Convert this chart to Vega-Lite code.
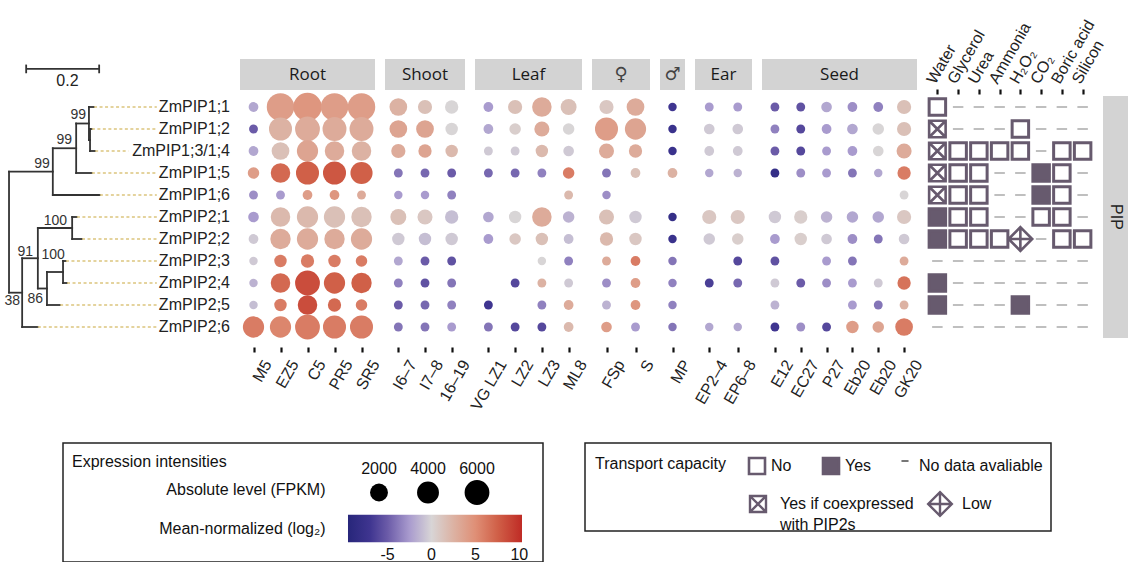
{
"$schema": "https://vega.github.io/schema/vega-lite/v6.json",
"padding": {"top": 17, "left": 0, "right": 0, "bottom": 0},
"background": "white",
"config": {"view": {"stroke": null}, "font": "Liberation Sans", "legend": {"disable": true}, "axis": {"grid": false, "labelFont": "Liberation Sans"}, "title": {"fontWeight": "normal", "font": "Liberation Sans"}},
"datasets": {
"scalebar": [{"from": 0.047, "to": 0.247, "label": "0.2"}],
"tree": [
{"x0":0.222,"x1":0.222,"y0":1,"y1":2},{"x0":0.219,"x1":0.219,"y0":0,"y1":1.5},{"x0":0.184,"x1":0.184,"y0":0.75,"y1":3},{"x0":0.12,"x1":0.12,"y0":1.875,"y1":4},{"x0":0.173,"x1":0.173,"y0":5,"y1":6},{"x0":0.148,"x1":0.148,"y0":7,"y1":8},{"x0":0.104,"x1":0.104,"y0":7.5,"y1":9},{"x0":0.079,"x1":0.079,"y0":5.5,"y1":8.25},{"x0":0.036,"x1":0.036,"y0":6.875,"y1":10},{"x0":0,"x1":0,"y0":2.94,"y1":8.44},
{"x0":0.219,"x1":0.233,"y0":0,"y1":0},{"x0":0.222,"x1":0.227,"y0":1,"y1":1},{"x0":0.222,"x1":0.236,"y0":2,"y1":2},{"x0":0.219,"x1":0.222,"y0":1.5,"y1":1.5},{"x0":0.184,"x1":0.219,"y0":0.75,"y1":0.75},{"x0":0.184,"x1":0.227,"y0":3,"y1":3},{"x0":0.12,"x1":0.184,"y0":1.875,"y1":1.875},{"x0":0.12,"x1":0.249,"y0":4,"y1":4},{"x0":0,"x1":0.12,"y0":2.94,"y1":2.94},{"x0":0.173,"x1":0.186,"y0":5,"y1":5},{"x0":0.173,"x1":0.2,"y0":6,"y1":6},{"x0":0.079,"x1":0.173,"y0":5.5,"y1":5.5},{"x0":0.148,"x1":0.156,"y0":7,"y1":7},{"x0":0.148,"x1":0.159,"y0":8,"y1":8},{"x0":0.104,"x1":0.148,"y0":7.5,"y1":7.5},{"x0":0.104,"x1":0.14,"y0":9,"y1":9},{"x0":0.079,"x1":0.104,"y0":8.25,"y1":8.25},{"x0":0.036,"x1":0.079,"y0":6.875,"y1":6.875},{"x0":0.036,"x1":0.079,"y0":10,"y1":10},{"x0":0,"x1":0.036,"y0":8.44,"y1":8.44}],
"boot": [{"x":0.211,"y":0.37,"label":"99"},{"x":0.173,"y":1.51,"label":"99"},{"x":0.112,"y":2.6,"label":"99"},{"x":0.159,"y":5.2,"label":"100"},{"x":0.153,"y":6.71,"label":"100"},{"x":0.066,"y":6.58,"label":"91"},{"x":0.093,"y":8.72,"label":"86"},{"x":0.03,"y":8.81,"label":"38"}],
"leaves": [{"gene":"ZmPIP1;1","idx":0,"tip":0.233},{"gene":"ZmPIP1;2","idx":1,"tip":0.227},{"gene":"ZmPIP1;3/1;4","idx":2,"tip":0.236},{"gene":"ZmPIP1;5","idx":3,"tip":0.227},{"gene":"ZmPIP1;6","idx":4,"tip":0.249},{"gene":"ZmPIP2;1","idx":5,"tip":0.186},{"gene":"ZmPIP2;2","idx":6,"tip":0.2},{"gene":"ZmPIP2;3","idx":7,"tip":0.156},{"gene":"ZmPIP2;4","idx":8,"tip":0.159},{"gene":"ZmPIP2;5","idx":9,"tip":0.14},{"gene":"ZmPIP2;6","idx":10,"tip":0.079}],
"expr": [
{"gene":"ZmPIP1;1","tissue":"Root","sample":"M5","fpkm":95,"log2":-2},{"gene":"ZmPIP1;1","tissue":"Root","sample":"EZ5","fpkm":8280,"log2":4},{"gene":"ZmPIP1;1","tissue":"Root","sample":"C5","fpkm":9100,"log2":4.5},{"gene":"ZmPIP1;1","tissue":"Root","sample":"PR5","fpkm":8280,"log2":4},{"gene":"ZmPIP1;1","tissue":"Root","sample":"SR5","fpkm":8280,"log2":4},
{"gene":"ZmPIP1;2","tissue":"Root","sample":"M5","fpkm":30,"log2":-5},{"gene":"ZmPIP1;2","tissue":"Root","sample":"EZ5","fpkm":4720,"log2":2.5},{"gene":"ZmPIP1;2","tissue":"Root","sample":"C5","fpkm":6000,"log2":3},{"gene":"ZmPIP1;2","tissue":"Root","sample":"PR5","fpkm":5340,"log2":3},{"gene":"ZmPIP1;2","tissue":"Root","sample":"SR5","fpkm":5340,"log2":3},
{"gene":"ZmPIP1;3/1;4","tissue":"Root","sample":"M5","fpkm":95,"log2":-2},{"gene":"ZmPIP1;3/1;4","tissue":"Root","sample":"EZ5","fpkm":1930,"log2":1.5},{"gene":"ZmPIP1;3/1;4","tissue":"Root","sample":"C5","fpkm":3620,"log2":3.5},{"gene":"ZmPIP1;3/1;4","tissue":"Root","sample":"PR5","fpkm":2700,"log2":3},{"gene":"ZmPIP1;3/1;4","tissue":"Root","sample":"SR5","fpkm":2700,"log2":2.5},
{"gene":"ZmPIP1;5","tissue":"Root","sample":"M5","fpkm":300,"log2":4},{"gene":"ZmPIP1;5","tissue":"Root","sample":"EZ5","fpkm":2700,"log2":7},{"gene":"ZmPIP1;5","tissue":"Root","sample":"C5","fpkm":4720,"log2":7.5},{"gene":"ZmPIP1;5","tissue":"Root","sample":"PR5","fpkm":4720,"log2":8},{"gene":"ZmPIP1;5","tissue":"Root","sample":"SR5","fpkm":4150,"log2":7.5},
{"gene":"ZmPIP1;6","tissue":"Root","sample":"M5","fpkm":30,"log2":-3},{"gene":"ZmPIP1;6","tissue":"Root","sample":"EZ5","fpkm":30,"log2":-2.5},{"gene":"ZmPIP1;6","tissue":"Root","sample":"C5","fpkm":95,"log2":4},{"gene":"ZmPIP1;6","tissue":"Root","sample":"PR5","fpkm":95,"log2":4.5},{"gene":"ZmPIP1;6","tissue":"Root","sample":"SR5","fpkm":30,"log2":3},
{"gene":"ZmPIP2;1","tissue":"Root","sample":"M5","fpkm":185,"log2":-2.5},{"gene":"ZmPIP2;1","tissue":"Root","sample":"EZ5","fpkm":2700,"log2":2},{"gene":"ZmPIP2;1","tissue":"Root","sample":"C5","fpkm":3620,"log2":2},{"gene":"ZmPIP2;1","tissue":"Root","sample":"PR5","fpkm":3620,"log2":1.5},{"gene":"ZmPIP2;1","tissue":"Root","sample":"SR5","fpkm":3140,"log2":1.5},
{"gene":"ZmPIP2;2","tissue":"Root","sample":"M5","fpkm":95,"log2":-0.5},{"gene":"ZmPIP2;2","tissue":"Root","sample":"EZ5","fpkm":3140,"log2":3},{"gene":"ZmPIP2;2","tissue":"Root","sample":"C5","fpkm":3620,"log2":3},{"gene":"ZmPIP2;2","tissue":"Root","sample":"PR5","fpkm":3140,"log2":3},{"gene":"ZmPIP2;2","tissue":"Root","sample":"SR5","fpkm":3620,"log2":3},
{"gene":"ZmPIP2;3","tissue":"Root","sample":"M5","fpkm":10,"log2":-0.5},{"gene":"ZmPIP2;3","tissue":"Root","sample":"EZ5","fpkm":445,"log2":6},{"gene":"ZmPIP2;3","tissue":"Root","sample":"C5","fpkm":615,"log2":6},{"gene":"ZmPIP2;3","tissue":"Root","sample":"PR5","fpkm":445,"log2":6},{"gene":"ZmPIP2;3","tissue":"Root","sample":"SR5","fpkm":300,"log2":6},
{"gene":"ZmPIP2;4","tissue":"Root","sample":"M5","fpkm":10,"log2":-1.5},{"gene":"ZmPIP2;4","tissue":"Root","sample":"EZ5","fpkm":2700,"log2":7},{"gene":"ZmPIP2;4","tissue":"Root","sample":"C5","fpkm":6000,"log2":8.5},{"gene":"ZmPIP2;4","tissue":"Root","sample":"PR5","fpkm":3620,"log2":7.5},{"gene":"ZmPIP2;4","tissue":"Root","sample":"SR5","fpkm":3140,"log2":7.5},
{"gene":"ZmPIP2;5","tissue":"Root","sample":"M5","fpkm":10,"log2":-1},{"gene":"ZmPIP2;5","tissue":"Root","sample":"EZ5","fpkm":445,"log2":6},{"gene":"ZmPIP2;5","tissue":"Root","sample":"C5","fpkm":2700,"log2":8.5},{"gene":"ZmPIP2;5","tissue":"Root","sample":"PR5","fpkm":615,"log2":7},{"gene":"ZmPIP2;5","tissue":"Root","sample":"SR5","fpkm":300,"log2":6},
{"gene":"ZmPIP2;6","tissue":"Root","sample":"M5","fpkm":3620,"log2":6},{"gene":"ZmPIP2;6","tissue":"Root","sample":"EZ5","fpkm":3620,"log2":5.5},{"gene":"ZmPIP2;6","tissue":"Root","sample":"C5","fpkm":6000,"log2":6},{"gene":"ZmPIP2;6","tissue":"Root","sample":"PR5","fpkm":4720,"log2":6},{"gene":"ZmPIP2;6","tissue":"Root","sample":"SR5","fpkm":4720,"log2":6},
{"gene":"ZmPIP1;1","tissue":"Shoot","sample":"I6–7","fpkm":1930,"log2":2.5},{"gene":"ZmPIP1;1","tissue":"Shoot","sample":"I7–8","fpkm":815,"log2":1.5},{"gene":"ZmPIP1;1","tissue":"Shoot","sample":"16–19","fpkm":615,"log2":0},
{"gene":"ZmPIP1;2","tissue":"Shoot","sample":"I6–7","fpkm":1930,"log2":3.5},{"gene":"ZmPIP1;2","tissue":"Shoot","sample":"I7–8","fpkm":1930,"log2":3.5},{"gene":"ZmPIP1;2","tissue":"Shoot","sample":"16–19","fpkm":445,"log2":0},
{"gene":"ZmPIP1;3/1;4","tissue":"Shoot","sample":"I6–7","fpkm":815,"log2":3},{"gene":"ZmPIP1;3/1;4","tissue":"Shoot","sample":"I7–8","fpkm":615,"log2":3.5},{"gene":"ZmPIP1;3/1;4","tissue":"Shoot","sample":"16–19","fpkm":445,"log2":2},
{"gene":"ZmPIP1;5","tissue":"Shoot","sample":"I6–7","fpkm":30,"log2":-4},{"gene":"ZmPIP1;5","tissue":"Shoot","sample":"I7–8","fpkm":30,"log2":-4.5},{"gene":"ZmPIP1;5","tissue":"Shoot","sample":"16–19","fpkm":30,"log2":-5},
{"gene":"ZmPIP1;6","tissue":"Shoot","sample":"I6–7","fpkm":10,"log2":-2.5},{"gene":"ZmPIP1;6","tissue":"Shoot","sample":"I7–8","fpkm":10,"log2":-2.5},{"gene":"ZmPIP1;6","tissue":"Shoot","sample":"16–19","fpkm":30,"log2":-3.5},
{"gene":"ZmPIP2;1","tissue":"Shoot","sample":"I6–7","fpkm":1305,"log2":1.5},{"gene":"ZmPIP2;1","tissue":"Shoot","sample":"I7–8","fpkm":1045,"log2":1},{"gene":"ZmPIP2;1","tissue":"Shoot","sample":"16–19","fpkm":615,"log2":-1},
{"gene":"ZmPIP2;2","tissue":"Shoot","sample":"I6–7","fpkm":445,"log2":-0.5},{"gene":"ZmPIP2;2","tissue":"Shoot","sample":"I7–8","fpkm":445,"log2":-1},{"gene":"ZmPIP2;2","tissue":"Shoot","sample":"16–19","fpkm":445,"log2":-0.5},
{"gene":"ZmPIP2;3","tissue":"Shoot","sample":"I6–7","fpkm":30,"log2":-2},{"gene":"ZmPIP2;3","tissue":"Shoot","sample":"I7–8","fpkm":30,"log2":-5},{"gene":"ZmPIP2;3","tissue":"Shoot","sample":"16–19","fpkm":30,"log2":-5.5},
{"gene":"ZmPIP2;4","tissue":"Shoot","sample":"I6–7","fpkm":30,"log2":-3.5},{"gene":"ZmPIP2;4","tissue":"Shoot","sample":"I7–8","fpkm":30,"log2":-5.5},{"gene":"ZmPIP2;4","tissue":"Shoot","sample":"16–19","fpkm":30,"log2":-4},
{"gene":"ZmPIP2;5","tissue":"Shoot","sample":"I6–7","fpkm":30,"log2":-5},{"gene":"ZmPIP2;5","tissue":"Shoot","sample":"I7–8","fpkm":30,"log2":-4.5},{"gene":"ZmPIP2;5","tissue":"Shoot","sample":"16–19","fpkm":30,"log2":-3.5},
{"gene":"ZmPIP2;6","tissue":"Shoot","sample":"I6–7","fpkm":30,"log2":-4},{"gene":"ZmPIP2;6","tissue":"Shoot","sample":"I7–8","fpkm":30,"log2":-4},{"gene":"ZmPIP2;6","tissue":"Shoot","sample":"16–19","fpkm":30,"log2":-2.5},
{"gene":"ZmPIP1;1","tissue":"Leaf","sample":"VG LZ1","fpkm":95,"log2":-2.5},{"gene":"ZmPIP1;1","tissue":"Leaf","sample":"LZ2","fpkm":815,"log2":1.5},{"gene":"ZmPIP1;1","tissue":"Leaf","sample":"LZ3","fpkm":2700,"log2":3},{"gene":"ZmPIP1;1","tissue":"Leaf","sample":"ML8","fpkm":1305,"log2":1.5},
{"gene":"ZmPIP1;2","tissue":"Leaf","sample":"VG LZ1","fpkm":95,"log2":-2},{"gene":"ZmPIP1;2","tissue":"Leaf","sample":"LZ2","fpkm":300,"log2":0.5},{"gene":"ZmPIP1;2","tissue":"Leaf","sample":"LZ3","fpkm":1045,"log2":3},{"gene":"ZmPIP1;2","tissue":"Leaf","sample":"ML8","fpkm":300,"log2":0},
{"gene":"ZmPIP1;3/1;4","tissue":"Leaf","sample":"VG LZ1","fpkm":30,"log2":-0.5},{"gene":"ZmPIP1;3/1;4","tissue":"Leaf","sample":"LZ2","fpkm":30,"log2":-0.5},{"gene":"ZmPIP1;3/1;4","tissue":"Leaf","sample":"LZ3","fpkm":445,"log2":2},{"gene":"ZmPIP1;3/1;4","tissue":"Leaf","sample":"ML8","fpkm":185,"log2":-0.5},
{"gene":"ZmPIP1;5","tissue":"Leaf","sample":"VG LZ1","fpkm":30,"log2":-4.5},{"gene":"ZmPIP1;5","tissue":"Leaf","sample":"LZ2","fpkm":30,"log2":-4.5},{"gene":"ZmPIP1;5","tissue":"Leaf","sample":"LZ3","fpkm":30,"log2":-3.5},{"gene":"ZmPIP1;5","tissue":"Leaf","sample":"ML8","fpkm":300,"log2":6},
{"gene":"ZmPIP1;6","tissue":"Leaf","sample":"ML8","fpkm":30,"log2":2},
{"gene":"ZmPIP2;1","tissue":"Leaf","sample":"VG LZ1","fpkm":185,"log2":-2},{"gene":"ZmPIP2;1","tissue":"Leaf","sample":"LZ2","fpkm":445,"log2":0},{"gene":"ZmPIP2;1","tissue":"Leaf","sample":"LZ3","fpkm":2700,"log2":3},{"gene":"ZmPIP2;1","tissue":"Leaf","sample":"ML8","fpkm":300,"log2":-1.5},
{"gene":"ZmPIP2;2","tissue":"Leaf","sample":"VG LZ1","fpkm":95,"log2":-2.5},{"gene":"ZmPIP2;2","tissue":"Leaf","sample":"LZ2","fpkm":300,"log2":1},{"gene":"ZmPIP2;2","tissue":"Leaf","sample":"LZ3","fpkm":445,"log2":1.5},{"gene":"ZmPIP2;2","tissue":"Leaf","sample":"ML8","fpkm":95,"log2":-1},
{"gene":"ZmPIP2;3","tissue":"Leaf","sample":"LZ3","fpkm":10,"log2":0},{"gene":"ZmPIP2;3","tissue":"Leaf","sample":"ML8","fpkm":30,"log2":-3.5},
{"gene":"ZmPIP2;4","tissue":"Leaf","sample":"LZ2","fpkm":30,"log2":-6},{"gene":"ZmPIP2;4","tissue":"Leaf","sample":"LZ3","fpkm":30,"log2":2.5},{"gene":"ZmPIP2;4","tissue":"Leaf","sample":"ML8","fpkm":30,"log2":-0.5},
{"gene":"ZmPIP2;5","tissue":"Leaf","sample":"VG LZ1","fpkm":30,"log2":-7},{"gene":"ZmPIP2;5","tissue":"Leaf","sample":"LZ3","fpkm":30,"log2":-3.5},{"gene":"ZmPIP2;5","tissue":"Leaf","sample":"ML8","fpkm":95,"log2":3},
{"gene":"ZmPIP2;6","tissue":"Leaf","sample":"VG LZ1","fpkm":30,"log2":-4},{"gene":"ZmPIP2;6","tissue":"Leaf","sample":"LZ2","fpkm":30,"log2":-6},{"gene":"ZmPIP2;6","tissue":"Leaf","sample":"LZ3","fpkm":30,"log2":-6},{"gene":"ZmPIP2;6","tissue":"Leaf","sample":"ML8","fpkm":95,"log2":2},
{"gene":"ZmPIP1;1","tissue":"Female","sample":"FSp","fpkm":815,"log2":1},{"gene":"ZmPIP1;1","tissue":"Female","sample":"S","fpkm":1930,"log2":3},
{"gene":"ZmPIP1;2","tissue":"Female","sample":"FSp","fpkm":4720,"log2":4},{"gene":"ZmPIP1;2","tissue":"Female","sample":"S","fpkm":3620,"log2":3.5},
{"gene":"ZmPIP1;3/1;4","tissue":"Female","sample":"FSp","fpkm":1045,"log2":3},{"gene":"ZmPIP1;3/1;4","tissue":"Female","sample":"S","fpkm":615,"log2":3},
{"gene":"ZmPIP1;5","tissue":"Female","sample":"FSp","fpkm":30,"log2":-4},{"gene":"ZmPIP1;5","tissue":"Female","sample":"S","fpkm":95,"log2":1.5},
{"gene":"ZmPIP1;6","tissue":"Female","sample":"FSp","fpkm":10,"log2":-3},
{"gene":"ZmPIP2;1","tissue":"Female","sample":"FSp","fpkm":1045,"log2":1.5},{"gene":"ZmPIP2;1","tissue":"Female","sample":"S","fpkm":445,"log2":-0.5},
{"gene":"ZmPIP2;2","tissue":"Female","sample":"FSp","fpkm":615,"log2":2},{"gene":"ZmPIP2;2","tissue":"Female","sample":"S","fpkm":445,"log2":1},
{"gene":"ZmPIP2;3","tissue":"Female","sample":"FSp","fpkm":30,"log2":3},{"gene":"ZmPIP2;3","tissue":"Female","sample":"S","fpkm":95,"log2":6},
{"gene":"ZmPIP2;4","tissue":"Female","sample":"FSp","fpkm":30,"log2":-3},{"gene":"ZmPIP2;4","tissue":"Female","sample":"S","fpkm":95,"log2":4},
{"gene":"ZmPIP2;5","tissue":"Female","sample":"FSp","fpkm":30,"log2":-1.5},{"gene":"ZmPIP2;5","tissue":"Female","sample":"S","fpkm":95,"log2":4.5},
{"gene":"ZmPIP2;6","tissue":"Female","sample":"FSp","fpkm":185,"log2":4},{"gene":"ZmPIP2;6","tissue":"Female","sample":"S","fpkm":30,"log2":-2.5},
{"gene":"ZmPIP1;1","tissue":"Male","sample":"MP","fpkm":10,"log2":-7},{"gene":"ZmPIP1;2","tissue":"Male","sample":"MP","fpkm":10,"log2":-7.5},{"gene":"ZmPIP1;3/1;4","tissue":"Male","sample":"MP","fpkm":10,"log2":-7.5},{"gene":"ZmPIP1;5","tissue":"Male","sample":"MP","fpkm":95,"log2":2.5},{"gene":"ZmPIP2;1","tissue":"Male","sample":"MP","fpkm":10,"log2":-8},{"gene":"ZmPIP2;2","tissue":"Male","sample":"MP","fpkm":10,"log2":-7.5},{"gene":"ZmPIP2;3","tissue":"Male","sample":"MP","fpkm":10,"log2":-4},{"gene":"ZmPIP2;4","tissue":"Male","sample":"MP","fpkm":10,"log2":-3.5},{"gene":"ZmPIP2;5","tissue":"Male","sample":"MP","fpkm":10,"log2":-3.5},{"gene":"ZmPIP2;6","tissue":"Male","sample":"MP","fpkm":10,"log2":-4},
{"gene":"ZmPIP1;1","tissue":"Ear","sample":"EP2–4","fpkm":30,"log2":-2.5},{"gene":"ZmPIP1;1","tissue":"Ear","sample":"EP6–8","fpkm":30,"log2":-2.5},
{"gene":"ZmPIP1;2","tissue":"Ear","sample":"EP2–4","fpkm":185,"log2":-0.5},{"gene":"ZmPIP1;2","tissue":"Ear","sample":"EP6–8","fpkm":185,"log2":-0.5},
{"gene":"ZmPIP1;3/1;4","tissue":"Ear","sample":"EP2–4","fpkm":95,"log2":-0.5},{"gene":"ZmPIP1;3/1;4","tissue":"Ear","sample":"EP6–8","fpkm":95,"log2":-0.5},
{"gene":"ZmPIP1;5","tissue":"Ear","sample":"EP2–4","fpkm":10,"log2":-2},{"gene":"ZmPIP1;5","tissue":"Ear","sample":"EP6–8","fpkm":10,"log2":-1.5},
{"gene":"ZmPIP2;1","tissue":"Ear","sample":"EP2–4","fpkm":815,"log2":1},{"gene":"ZmPIP2;1","tissue":"Ear","sample":"EP6–8","fpkm":815,"log2":1},
{"gene":"ZmPIP2;2","tissue":"Ear","sample":"EP2–4","fpkm":300,"log2":-0.5},{"gene":"ZmPIP2;2","tissue":"Ear","sample":"EP6–8","fpkm":300,"log2":0.5},
{"gene":"ZmPIP2;3","tissue":"Ear","sample":"EP6–8","fpkm":30,"log2":-6},
{"gene":"ZmPIP2;4","tissue":"Ear","sample":"EP2–4","fpkm":30,"log2":-6.5},{"gene":"ZmPIP2;4","tissue":"Ear","sample":"EP6–8","fpkm":30,"log2":-4.5},
{"gene":"ZmPIP2;6","tissue":"Ear","sample":"EP2–4","fpkm":10,"log2":-2},{"gene":"ZmPIP2;6","tissue":"Ear","sample":"EP6–8","fpkm":10,"log2":-2},
{"gene":"ZmPIP1;1","tissue":"Seed","sample":"E12","fpkm":30,"log2":-5},{"gene":"ZmPIP1;1","tissue":"Seed","sample":"EC27","fpkm":30,"log2":-5.5},{"gene":"ZmPIP1;1","tissue":"Seed","sample":"P27","fpkm":185,"log2":-2},{"gene":"ZmPIP1;1","tissue":"Seed","sample":"Eb20a","fpkm":95,"log2":-3},{"gene":"ZmPIP1;1","tissue":"Seed","sample":"Eb20b","fpkm":95,"log2":-3.5},{"gene":"ZmPIP1;1","tissue":"Seed","sample":"GK20","fpkm":815,"log2":1.5},
{"gene":"ZmPIP1;2","tissue":"Seed","sample":"E12","fpkm":30,"log2":-3.5},{"gene":"ZmPIP1;2","tissue":"Seed","sample":"EC27","fpkm":30,"log2":-6},{"gene":"ZmPIP1;2","tissue":"Seed","sample":"P27","fpkm":95,"log2":-2.5},{"gene":"ZmPIP1;2","tissue":"Seed","sample":"Eb20a","fpkm":185,"log2":-2},{"gene":"ZmPIP1;2","tissue":"Seed","sample":"Eb20b","fpkm":300,"log2":0},{"gene":"ZmPIP1;2","tissue":"Seed","sample":"GK20","fpkm":815,"log2":1.5},
{"gene":"ZmPIP1;3/1;4","tissue":"Seed","sample":"E12","fpkm":30,"log2":-5},{"gene":"ZmPIP1;3/1;4","tissue":"Seed","sample":"EC27","fpkm":30,"log2":-6},{"gene":"ZmPIP1;3/1;4","tissue":"Seed","sample":"P27","fpkm":30,"log2":-2.5},{"gene":"ZmPIP1;3/1;4","tissue":"Seed","sample":"Eb20a","fpkm":95,"log2":-2.5},{"gene":"ZmPIP1;3/1;4","tissue":"Seed","sample":"Eb20b","fpkm":185,"log2":0},{"gene":"ZmPIP1;3/1;4","tissue":"Seed","sample":"GK20","fpkm":1045,"log2":3},
{"gene":"ZmPIP1;5","tissue":"Seed","sample":"E12","fpkm":30,"log2":-8},{"gene":"ZmPIP1;5","tissue":"Seed","sample":"EC27","fpkm":30,"log2":-3},{"gene":"ZmPIP1;5","tissue":"Seed","sample":"P27","fpkm":30,"log2":-2.5},{"gene":"ZmPIP1;5","tissue":"Seed","sample":"Eb20a","fpkm":30,"log2":-4},{"gene":"ZmPIP1;5","tissue":"Seed","sample":"Eb20b","fpkm":10,"log2":-2},{"gene":"ZmPIP1;5","tissue":"Seed","sample":"GK20","fpkm":615,"log2":6},
{"gene":"ZmPIP1;6","tissue":"Seed","sample":"GK20","fpkm":30,"log2":0},
{"gene":"ZmPIP2;1","tissue":"Seed","sample":"E12","fpkm":445,"log2":-0.5},{"gene":"ZmPIP2;1","tissue":"Seed","sample":"EC27","fpkm":615,"log2":0.5},{"gene":"ZmPIP2;1","tissue":"Seed","sample":"P27","fpkm":300,"log2":-1.5},{"gene":"ZmPIP2;1","tissue":"Seed","sample":"Eb20a","fpkm":300,"log2":-2},{"gene":"ZmPIP2;1","tissue":"Seed","sample":"Eb20b","fpkm":300,"log2":-2},{"gene":"ZmPIP2;1","tissue":"Seed","sample":"GK20","fpkm":815,"log2":1},
{"gene":"ZmPIP2;2","tissue":"Seed","sample":"E12","fpkm":95,"log2":-2.5},{"gene":"ZmPIP2;2","tissue":"Seed","sample":"EC27","fpkm":445,"log2":0.5},{"gene":"ZmPIP2;2","tissue":"Seed","sample":"P27","fpkm":185,"log2":-0.5},{"gene":"ZmPIP2;2","tissue":"Seed","sample":"Eb20a","fpkm":95,"log2":-3},{"gene":"ZmPIP2;2","tissue":"Seed","sample":"Eb20b","fpkm":30,"log2":-4},{"gene":"ZmPIP2;2","tissue":"Seed","sample":"GK20","fpkm":185,"log2":-0.5},
{"gene":"ZmPIP2;3","tissue":"Seed","sample":"E12","fpkm":30,"log2":-5.5},{"gene":"ZmPIP2;3","tissue":"Seed","sample":"P27","fpkm":30,"log2":-2.5},{"gene":"ZmPIP2;3","tissue":"Seed","sample":"Eb20a","fpkm":30,"log2":-4},{"gene":"ZmPIP2;3","tissue":"Seed","sample":"GK20","fpkm":30,"log2":3},
{"gene":"ZmPIP2;4","tissue":"Seed","sample":"E12","fpkm":30,"log2":-0.5},{"gene":"ZmPIP2;4","tissue":"Seed","sample":"EC27","fpkm":30,"log2":-5},{"gene":"ZmPIP2;4","tissue":"Seed","sample":"P27","fpkm":30,"log2":-3},{"gene":"ZmPIP2;4","tissue":"Seed","sample":"Eb20a","fpkm":30,"log2":-2.5},{"gene":"ZmPIP2;4","tissue":"Seed","sample":"Eb20b","fpkm":30,"log2":-0.5},{"gene":"ZmPIP2;4","tissue":"Seed","sample":"GK20","fpkm":615,"log2":6.5},
{"gene":"ZmPIP2;5","tissue":"Seed","sample":"E12","fpkm":30,"log2":-1.5},{"gene":"ZmPIP2;5","tissue":"Seed","sample":"Eb20a","fpkm":30,"log2":-2.5},{"gene":"ZmPIP2;5","tissue":"Seed","sample":"Eb20b","fpkm":30,"log2":-4},{"gene":"ZmPIP2;5","tissue":"Seed","sample":"GK20","fpkm":30,"log2":2.5},
{"gene":"ZmPIP2;6","tissue":"Seed","sample":"E12","fpkm":30,"log2":-7},{"gene":"ZmPIP2;6","tissue":"Seed","sample":"EC27","fpkm":30,"log2":-3},{"gene":"ZmPIP2;6","tissue":"Seed","sample":"P27","fpkm":30,"log2":-6},{"gene":"ZmPIP2;6","tissue":"Seed","sample":"Eb20a","fpkm":445,"log2":4},{"gene":"ZmPIP2;6","tissue":"Seed","sample":"Eb20b","fpkm":300,"log2":3.5},{"gene":"ZmPIP2;6","tissue":"Seed","sample":"GK20","fpkm":1930,"log2":6}
],
"transport": [
{"gene":"ZmPIP1;1","Water":"No","Glycerol":"NoData","Urea":"NoData","Ammonia":"NoData","H₂O₂":"NoData","CO₂":"NoData","Boric acid":"NoData","Silicon":"NoData"},
{"gene":"ZmPIP1;2","Water":"Coexp","Glycerol":"NoData","Urea":"NoData","Ammonia":"NoData","H₂O₂":"No","CO₂":"NoData","Boric acid":"NoData","Silicon":"NoData"},
{"gene":"ZmPIP1;3/1;4","Water":"Coexp","Glycerol":"No","Urea":"No","Ammonia":"No","H₂O₂":"No","CO₂":"NoData","Boric acid":"No","Silicon":"No"},
{"gene":"ZmPIP1;5","Water":"Coexp","Glycerol":"No","Urea":"No","Ammonia":"NoData","H₂O₂":"NoData","CO₂":"Yes","Boric acid":"No","Silicon":"NoData"},
{"gene":"ZmPIP1;6","Water":"Coexp","Glycerol":"No","Urea":"No","Ammonia":"NoData","H₂O₂":"NoData","CO₂":"Yes","Boric acid":"No","Silicon":"NoData"},
{"gene":"ZmPIP2;1","Water":"Yes","Glycerol":"No","Urea":"No","Ammonia":"NoData","H₂O₂":"NoData","CO₂":"No","Boric acid":"No","Silicon":"NoData"},
{"gene":"ZmPIP2;2","Water":"Yes","Glycerol":"No","Urea":"No","Ammonia":"No","H₂O₂":"Low","CO₂":"NoData","Boric acid":"No","Silicon":"No"},
{"gene":"ZmPIP2;3","Water":"NoData","Glycerol":"NoData","Urea":"NoData","Ammonia":"NoData","H₂O₂":"NoData","CO₂":"NoData","Boric acid":"NoData","Silicon":"NoData"},
{"gene":"ZmPIP2;4","Water":"Yes","Glycerol":"NoData","Urea":"NoData","Ammonia":"NoData","H₂O₂":"NoData","CO₂":"NoData","Boric acid":"NoData","Silicon":"NoData"},
{"gene":"ZmPIP2;5","Water":"Yes","Glycerol":"NoData","Urea":"NoData","Ammonia":"NoData","H₂O₂":"Yes","CO₂":"NoData","Boric acid":"NoData","Silicon":"NoData"},
{"gene":"ZmPIP2;6","Water":"NoData","Glycerol":"NoData","Urea":"NoData","Ammonia":"NoData","H₂O₂":"NoData","CO₂":"NoData","Boric acid":"NoData","Silicon":"NoData"}
],
"sizeLegend": [{"fpkm": 2000}, {"fpkm": 4000}, {"fpkm": 6000}],
"gradientLegend": [{"low": -9.5, "high": 10.3}],
"gradientTicks": [{"v": -5, "label": "-5"}, {"v": 0, "label": "0"}, {"v": 5, "label": "5"}, {"v": 10, "label": "10"}],
"tcap": [{"status": "No", "label": "No"}, {"status": "Yes", "label": "Yes"}, {"status": "NoData", "label": "No data  avaliable"}, {"status": "Coexp", "label": "Yes if coexpressed|with PIP2s"}, {"status": "Low", "label": "Low"}]
},
"spacing": 29,
"vconcat": [
{
"columns": 10,
"spacing": {"row": 6, "column": 10},
"bounds": "flush",
"align": "each",
"concat": [
{"width": 230, "height": 31, "data": {"name": "scalebar"},
 "layer": [
  {"mark": {"type": "rule", "color": "#333333", "strokeWidth": 1.8},
   "encoding": {"x": {"field": "from", "type": "quantitative", "scale": {"domain": [-0.0247, 0.6055], "zero": false, "nice": false}, "axis": null}, "x2": {"field": "to"},
                "y": {"datum": 0.32, "type": "quantitative", "scale": {"domain": [0, 1], "reverse": true, "zero": false, "nice": false}, "axis": null}}},
  {"mark": {"type": "rule", "color": "#333333", "strokeWidth": 1.8},
   "encoding": {"x": {"field": "from", "type": "quantitative", "axis": null}, "y": {"datum": 0.18, "type": "quantitative", "axis": null}, "y2": {"datum": 0.46}}},
  {"mark": {"type": "rule", "color": "#333333", "strokeWidth": 1.8},
   "encoding": {"x": {"field": "to", "type": "quantitative", "axis": null}, "y": {"datum": 0.18, "type": "quantitative", "axis": null}, "y2": {"datum": 0.46}}},
  {"mark": {"type": "text", "fontSize": 16, "color": "#222222", "baseline": "middle"},
   "encoding": {"x": {"datum": 0.16, "type": "quantitative", "axis": null}, "y": {"datum": 0.7, "type": "quantitative", "axis": null}, "text": {"field": "label"}}}
 ]},
{"width": 135, "height": 31, "view": {"fill": "#d3d3d3", "stroke": null}, "data": {"values": [{"label": "Root"}]}, "mark": {"type": "text", "font": "Open Sans", "fontSize": 17, "color": "#1a1a1a"}, "encoding": {"text": {"field": "label"}}},
{"width": 80, "height": 31, "view": {"fill": "#d3d3d3", "stroke": null}, "data": {"values": [{"label": "Shoot"}]}, "mark": {"type": "text", "font": "Open Sans", "fontSize": 17, "color": "#1a1a1a"}, "encoding": {"text": {"field": "label"}}},
{"width": 107, "height": 31, "view": {"fill": "#d3d3d3", "stroke": null}, "data": {"values": [{"label": "Leaf"}]}, "mark": {"type": "text", "font": "Open Sans", "fontSize": 17, "color": "#1a1a1a"}, "encoding": {"text": {"field": "label"}}},
{"width": 58, "height": 31, "view": {"fill": "#d3d3d3", "stroke": null}, "data": {"values": [{"label": "♀"}]}, "mark": {"type": "text", "font": "DejaVu Sans", "fontSize": 18, "color": "#444444"}, "encoding": {"text": {"field": "label"}}},
{"width": 25, "height": 31, "view": {"fill": "#d3d3d3", "stroke": null}, "data": {"values": [{"label": "♂"}]}, "mark": {"type": "text", "font": "DejaVu Sans", "fontSize": 18, "color": "#444444"}, "encoding": {"text": {"field": "label"}}},
{"width": 57, "height": 31, "view": {"fill": "#d3d3d3", "stroke": null}, "data": {"values": [{"label": "Ear"}]}, "mark": {"type": "text", "font": "Open Sans", "fontSize": 17, "color": "#1a1a1a"}, "encoding": {"text": {"field": "label"}}},
{"width": 155, "height": 31, "view": {"fill": "#d3d3d3", "stroke": null}, "data": {"values": [{"label": "Seed"}]}, "mark": {"type": "text", "font": "Open Sans", "fontSize": 17, "color": "#1a1a1a"}, "encoding": {"text": {"field": "label"}}},
{"width": 166, "height": 31, "data": {"values": [{"label": ""}]}, "mark": {"type": "text"}, "encoding": {"text": {"field": "label"}}},
{"width": 25, "height": 31, "data": {"values": [{"label": ""}]}, "mark": {"type": "text"}, "encoding": {"text": {"field": "label"}}},

{"width": 230, "height": 242,
 "layer": [
  {"data": {"name": "tree"}, "mark": {"type": "rule", "color": "#333333", "strokeWidth": 1.8, "strokeCap": "square"},
   "encoding": {"x": {"field": "x0", "type": "quantitative", "scale": {"domain": [-0.0247, 0.6055], "zero": false, "nice": false}, "axis": null}, "x2": {"field": "x1"},
                "y": {"field": "y0", "type": "quantitative", "scale": {"domain": [-0.5, 10.5], "reverse": true, "zero": false, "nice": false}, "axis": null}, "y2": {"field": "y1"}}},
  {"data": {"name": "leaves"}, "transform": [{"filter": "datum.gene != 'ZmPIP1;3/1;4'"}], "mark": {"type": "rule", "color": "#dcc57e", "strokeWidth": 1.3, "strokeDash": [3, 2.5]},
   "encoding": {"x": {"field": "tip", "type": "quantitative", "axis": null}, "x2": {"datum": 0.405}, "y": {"field": "idx", "type": "quantitative", "axis": null}}},
  {"data": {"name": "leaves"}, "transform": [{"filter": "datum.gene == 'ZmPIP1;3/1;4'"}], "mark": {"type": "rule", "color": "#dcc57e", "strokeWidth": 1.3, "strokeDash": [3, 2.5]},
   "encoding": {"x": {"field": "tip", "type": "quantitative", "axis": null}, "x2": {"datum": 0.327}, "y": {"field": "idx", "type": "quantitative", "axis": null}}},
  {"data": {"name": "leaves"}, "mark": {"type": "text", "align": "right", "baseline": "middle", "fontSize": 16, "color": "#222222"},
   "encoding": {"x": {"datum": 0.6055, "type": "quantitative", "axis": null}, "y": {"field": "idx", "type": "quantitative", "axis": null}, "text": {"field": "gene"}}},
  {"data": {"name": "boot"}, "mark": {"type": "text", "align": "right", "baseline": "middle", "fontSize": 14, "color": "#333333"},
   "encoding": {"x": {"field": "x", "type": "quantitative", "axis": null}, "y": {"field": "y", "type": "quantitative", "axis": null}, "text": {"field": "label"}}}
 ]},

{"width": 135, "height": 242, "data": {"name": "expr"}, "transform": [{"filter": "datum.tissue == 'Root'"}],
 "mark": {"type": "circle", "opacity": 1},
 "encoding": {
  "x": {"field": "sample", "type": "nominal", "scale": {"type": "point", "domain": ["M5", "EZ5", "C5", "PR5", "SR5"], "padding": 0.5}, "axis": {"orient": "bottom", "title": null, "domain": false, "tickColor": "#111111", "tickWidth": 2.2, "tickSize": 5, "offset": 9, "labelAngle": -60, "labelAlign": "right", "labelBaseline": "top", "labelFontSize": 16, "labelPadding": 5, "labelOffset": 7, "labelColor": "#222222", "labelOverlap": false}},
  "y": {"field": "gene", "type": "nominal", "scale": {"type": "point", "domain": ["ZmPIP1;1","ZmPIP1;2","ZmPIP1;3/1;4","ZmPIP1;5","ZmPIP1;6","ZmPIP2;1","ZmPIP2;2","ZmPIP2;3","ZmPIP2;4","ZmPIP2;5","ZmPIP2;6"], "padding": 0.5}, "axis": null},
  "size": {"field": "fpkm", "type": "quantitative", "scale": {"type": "pow", "exponent": 0.7, "domain": [0, 6000], "range": [65, 616]}, "legend": null},
  "color": {"field": "log2", "type": "quantitative", "scale": {"domain": [-9.5, -7, -5, -2.5, 0, 2.5, 5, 7.5, 10.3], "range": ["#27267a", "#3f3590", "#6b5ba8", "#a99bce", "#d8d5d6", "#dcb2a3", "#df8f76", "#d06048", "#bf2b25"], "interpolate": "rgb"}, "legend": null}
 }},
{"width": 80, "height": 242, "data": {"name": "expr"}, "transform": [{"filter": "datum.tissue == 'Shoot'"}],
 "mark": {"type": "circle", "opacity": 1},
 "encoding": {
  "x": {"field": "sample", "type": "nominal", "scale": {"type": "point", "domain": ["I6–7", "I7–8", "16–19"], "padding": 0.5}, "axis": {"orient": "bottom", "title": null, "domain": false, "tickColor": "#111111", "tickWidth": 2.2, "tickSize": 5, "offset": 9, "labelAngle": -60, "labelAlign": "right", "labelBaseline": "top", "labelFontSize": 16, "labelPadding": 5, "labelOffset": 7, "labelColor": "#222222", "labelOverlap": false}},
  "y": {"field": "gene", "type": "nominal", "scale": {"type": "point", "domain": ["ZmPIP1;1","ZmPIP1;2","ZmPIP1;3/1;4","ZmPIP1;5","ZmPIP1;6","ZmPIP2;1","ZmPIP2;2","ZmPIP2;3","ZmPIP2;4","ZmPIP2;5","ZmPIP2;6"], "padding": 0.5}, "axis": null},
  "size": {"field": "fpkm", "type": "quantitative", "scale": {"type": "pow", "exponent": 0.7, "domain": [0, 6000], "range": [65, 616]}, "legend": null},
  "color": {"field": "log2", "type": "quantitative", "scale": {"domain": [-9.5, -7, -5, -2.5, 0, 2.5, 5, 7.5, 10.3], "range": ["#27267a", "#3f3590", "#6b5ba8", "#a99bce", "#d8d5d6", "#dcb2a3", "#df8f76", "#d06048", "#bf2b25"], "interpolate": "rgb"}, "legend": null}
 }},
{"width": 107, "height": 242, "data": {"name": "expr"}, "transform": [{"filter": "datum.tissue == 'Leaf'"}],
 "mark": {"type": "circle", "opacity": 1},
 "encoding": {
  "x": {"field": "sample", "type": "nominal", "scale": {"type": "point", "domain": ["VG LZ1", "LZ2", "LZ3", "ML8"], "padding": 0.5}, "axis": {"orient": "bottom", "title": null, "domain": false, "tickColor": "#111111", "tickWidth": 2.2, "tickSize": 5, "offset": 9, "labelAngle": -60, "labelAlign": "right", "labelBaseline": "top", "labelFontSize": 16, "labelPadding": 5, "labelOffset": 7, "labelColor": "#222222", "labelOverlap": false}},
  "y": {"field": "gene", "type": "nominal", "scale": {"type": "point", "domain": ["ZmPIP1;1","ZmPIP1;2","ZmPIP1;3/1;4","ZmPIP1;5","ZmPIP1;6","ZmPIP2;1","ZmPIP2;2","ZmPIP2;3","ZmPIP2;4","ZmPIP2;5","ZmPIP2;6"], "padding": 0.5}, "axis": null},
  "size": {"field": "fpkm", "type": "quantitative", "scale": {"type": "pow", "exponent": 0.7, "domain": [0, 6000], "range": [65, 616]}, "legend": null},
  "color": {"field": "log2", "type": "quantitative", "scale": {"domain": [-9.5, -7, -5, -2.5, 0, 2.5, 5, 7.5, 10.3], "range": ["#27267a", "#3f3590", "#6b5ba8", "#a99bce", "#d8d5d6", "#dcb2a3", "#df8f76", "#d06048", "#bf2b25"], "interpolate": "rgb"}, "legend": null}
 }},
{"width": 58, "height": 242, "data": {"name": "expr"}, "transform": [{"filter": "datum.tissue == 'Female'"}],
 "mark": {"type": "circle", "opacity": 1},
 "encoding": {
  "x": {"field": "sample", "type": "nominal", "scale": {"type": "point", "domain": ["FSp", "S"], "padding": 0.5}, "axis": {"orient": "bottom", "title": null, "domain": false, "tickColor": "#111111", "tickWidth": 2.2, "tickSize": 5, "offset": 9, "labelAngle": -60, "labelAlign": "right", "labelBaseline": "top", "labelFontSize": 16, "labelPadding": 5, "labelOffset": 7, "labelColor": "#222222", "labelOverlap": false}},
  "y": {"field": "gene", "type": "nominal", "scale": {"type": "point", "domain": ["ZmPIP1;1","ZmPIP1;2","ZmPIP1;3/1;4","ZmPIP1;5","ZmPIP1;6","ZmPIP2;1","ZmPIP2;2","ZmPIP2;3","ZmPIP2;4","ZmPIP2;5","ZmPIP2;6"], "padding": 0.5}, "axis": null},
  "size": {"field": "fpkm", "type": "quantitative", "scale": {"type": "pow", "exponent": 0.7, "domain": [0, 6000], "range": [65, 616]}, "legend": null},
  "color": {"field": "log2", "type": "quantitative", "scale": {"domain": [-9.5, -7, -5, -2.5, 0, 2.5, 5, 7.5, 10.3], "range": ["#27267a", "#3f3590", "#6b5ba8", "#a99bce", "#d8d5d6", "#dcb2a3", "#df8f76", "#d06048", "#bf2b25"], "interpolate": "rgb"}, "legend": null}
 }},
{"width": 25, "height": 242, "data": {"name": "expr"}, "transform": [{"filter": "datum.tissue == 'Male'"}],
 "mark": {"type": "circle", "opacity": 1},
 "encoding": {
  "x": {"field": "sample", "type": "nominal", "scale": {"type": "point", "domain": ["MP"], "padding": 0.5}, "axis": {"orient": "bottom", "title": null, "domain": false, "tickColor": "#111111", "tickWidth": 2.2, "tickSize": 5, "offset": 9, "labelAngle": -60, "labelAlign": "right", "labelBaseline": "top", "labelFontSize": 16, "labelPadding": 5, "labelOffset": 7, "labelColor": "#222222", "labelOverlap": false}},
  "y": {"field": "gene", "type": "nominal", "scale": {"type": "point", "domain": ["ZmPIP1;1","ZmPIP1;2","ZmPIP1;3/1;4","ZmPIP1;5","ZmPIP1;6","ZmPIP2;1","ZmPIP2;2","ZmPIP2;3","ZmPIP2;4","ZmPIP2;5","ZmPIP2;6"], "padding": 0.5}, "axis": null},
  "size": {"field": "fpkm", "type": "quantitative", "scale": {"type": "pow", "exponent": 0.7, "domain": [0, 6000], "range": [65, 616]}, "legend": null},
  "color": {"field": "log2", "type": "quantitative", "scale": {"domain": [-9.5, -7, -5, -2.5, 0, 2.5, 5, 7.5, 10.3], "range": ["#27267a", "#3f3590", "#6b5ba8", "#a99bce", "#d8d5d6", "#dcb2a3", "#df8f76", "#d06048", "#bf2b25"], "interpolate": "rgb"}, "legend": null}
 }},
{"width": 57, "height": 242, "data": {"name": "expr"}, "transform": [{"filter": "datum.tissue == 'Ear'"}],
 "mark": {"type": "circle", "opacity": 1},
 "encoding": {
  "x": {"field": "sample", "type": "nominal", "scale": {"type": "point", "domain": ["EP2–4", "EP6–8"], "padding": 0.5}, "axis": {"orient": "bottom", "title": null, "domain": false, "tickColor": "#111111", "tickWidth": 2.2, "tickSize": 5, "offset": 9, "labelAngle": -60, "labelAlign": "right", "labelBaseline": "top", "labelFontSize": 16, "labelPadding": 5, "labelOffset": 7, "labelColor": "#222222", "labelOverlap": false}},
  "y": {"field": "gene", "type": "nominal", "scale": {"type": "point", "domain": ["ZmPIP1;1","ZmPIP1;2","ZmPIP1;3/1;4","ZmPIP1;5","ZmPIP1;6","ZmPIP2;1","ZmPIP2;2","ZmPIP2;3","ZmPIP2;4","ZmPIP2;5","ZmPIP2;6"], "padding": 0.5}, "axis": null},
  "size": {"field": "fpkm", "type": "quantitative", "scale": {"type": "pow", "exponent": 0.7, "domain": [0, 6000], "range": [65, 616]}, "legend": null},
  "color": {"field": "log2", "type": "quantitative", "scale": {"domain": [-9.5, -7, -5, -2.5, 0, 2.5, 5, 7.5, 10.3], "range": ["#27267a", "#3f3590", "#6b5ba8", "#a99bce", "#d8d5d6", "#dcb2a3", "#df8f76", "#d06048", "#bf2b25"], "interpolate": "rgb"}, "legend": null}
 }},
{"width": 155, "height": 242, "data": {"name": "expr"}, "transform": [{"filter": "datum.tissue == 'Seed'"}],
 "mark": {"type": "circle", "opacity": 1},
 "encoding": {
  "x": {"field": "sample", "type": "nominal", "scale": {"type": "point", "domain": ["E12", "EC27", "P27", "Eb20a", "Eb20b", "GK20"], "padding": 0.5}, "axis": {"orient": "bottom", "title": null, "domain": false, "tickColor": "#111111", "tickWidth": 2.2, "tickSize": 5, "offset": 9, "labelAngle": -60, "labelAlign": "right", "labelBaseline": "top", "labelFontSize": 16, "labelPadding": 5, "labelOffset": 7, "labelColor": "#222222", "labelOverlap": false, "labelExpr": "datum.label == 'Eb20a' || datum.label == 'Eb20b' ? 'Eb20' : datum.label"}},
  "y": {"field": "gene", "type": "nominal", "scale": {"type": "point", "domain": ["ZmPIP1;1","ZmPIP1;2","ZmPIP1;3/1;4","ZmPIP1;5","ZmPIP1;6","ZmPIP2;1","ZmPIP2;2","ZmPIP2;3","ZmPIP2;4","ZmPIP2;5","ZmPIP2;6"], "padding": 0.5}, "axis": null},
  "size": {"field": "fpkm", "type": "quantitative", "scale": {"type": "pow", "exponent": 0.7, "domain": [0, 6000], "range": [65, 616]}, "legend": null},
  "color": {"field": "log2", "type": "quantitative", "scale": {"domain": [-9.5, -7, -5, -2.5, 0, 2.5, 5, 7.5, 10.3], "range": ["#27267a", "#3f3590", "#6b5ba8", "#a99bce", "#d8d5d6", "#dcb2a3", "#df8f76", "#d06048", "#bf2b25"], "interpolate": "rgb"}, "legend": null}
 }},

{"width": 166, "height": 242, "data": {"name": "transport"},
 "transform": [{"fold": ["Water", "Glycerol", "Urea", "Ammonia", "H₂O₂", "CO₂", "Boric acid", "Silicon"], "as": ["substance", "status"]}],
 "encoding": {
  "x": {"field": "substance", "type": "nominal", "scale": {"type": "point", "domain": ["Water", "Glycerol", "Urea", "Ammonia", "H₂O₂", "CO₂", "Boric acid", "Silicon"], "padding": 0.5}, "axis": {"orient": "top", "title": null, "domain": false, "tickColor": "#111111", "tickWidth": 2.2, "tickSize": 5, "offset": 2, "labelAngle": -60, "labelAlign": "left", "labelBaseline": "bottom", "labelFontSize": 16, "labelPadding": 3, "labelColor": "#222222", "labelOverlap": false}},
  "y": {"field": "gene", "type": "nominal", "scale": {"type": "point", "domain": ["ZmPIP1;1","ZmPIP1;2","ZmPIP1;3/1;4","ZmPIP1;5","ZmPIP1;6","ZmPIP2;1","ZmPIP2;2","ZmPIP2;3","ZmPIP2;4","ZmPIP2;5","ZmPIP2;6"], "padding": 0.5}, "axis": null}
 },
 "layer": [
  {"transform": [{"filter": "datum.status == 'No'"}], "mark": {"type": "point", "shape": "square", "filled": true, "fill": "#ffffff", "stroke": "#675a6e", "strokeWidth": 3, "size": 272, "opacity": 1}},
  {"transform": [{"filter": "datum.status == 'Yes'"}], "mark": {"type": "point", "shape": "square", "filled": true, "fill": "#675a6e", "stroke": "#675a6e", "strokeWidth": 3, "size": 272, "opacity": 1}},
  {"transform": [{"filter": "datum.status == 'NoData'"}], "mark": {"type": "point", "shape": "M-1,0L1,0", "filled": false, "stroke": "#b8b8b8", "strokeWidth": 1.8, "size": 110, "opacity": 1}},
  {"transform": [{"filter": "datum.status == 'Coexp'"}], "mark": {"type": "point", "shape": "M-1,-1L1,-1L1,1L-1,1Z M-1,-1L1,1 M1,-1L-1,1", "filled": true, "fill": "#ffffff", "stroke": "#675a6e", "strokeWidth": 2.6, "size": 272, "opacity": 1}},
  {"transform": [{"filter": "datum.status == 'Low'"}], "mark": {"type": "point", "shape": "M0,-1L1,0L0,1L-1,0Z M0,-1L0,1 M-1,0L1,0", "filled": true, "fill": "#ffffff", "stroke": "#675a6e", "strokeWidth": 2.6, "size": 560, "opacity": 1}}
 ]},
{"width": 25, "height": 242, "view": {"fill": "#d3d3d3", "stroke": null}, "data": {"values": [{"label": "PIP"}]}, "mark": {"type": "text", "angle": 90, "fontSize": 16, "color": "#222222"}, "encoding": {"text": {"field": "label"}}}
]
},
{
"hconcat": [
 {"width": 21, "height": 10, "data": {"values": [{"label": ""}]}, "mark": {"type": "text"}, "encoding": {"text": {"field": "label"}}},
 {"width": 480, "height": 119, "view": {"stroke": "#222222", "strokeWidth": 1.5},
  "title": {"text": "Expression intensities", "anchor": "start", "frame": "group", "offset": -27, "dx": 9, "fontSize": 16, "fontWeight": "normal", "color": "#111111"},
  "resolve": {"scale": {"x": "independent"}},
  "layer": [
   {"data": {"name": "sizeLegend"}, "mark": {"type": "circle", "opacity": 1, "color": "#000000", "yOffset": 3},
    "encoding": {"x": {"field": "fpkm", "type": "ordinal", "scale": {"type": "point", "domain": [2000, 4000, 6000], "range": [316, 414], "padding": 0}, "axis": null},
                 "y": {"datum": "Absolute level (FPKM)", "type": "nominal", "scale": {"type": "band", "domain": ["Absolute level (FPKM)", "Mean-normalized (log₂)"], "range": [27, 105], "paddingInner": 0, "paddingOuter": 0}, "axis": {"orient": "left", "offset": -262, "domain": false, "ticks": false, "labelPadding": 0, "labelFontSize": 16, "labelColor": "#111111", "labelLimit": 400, "title": null}},
                 "size": {"field": "fpkm", "type": "quantitative", "scale": {"type": "pow", "exponent": 0.7, "domain": [0, 6000], "range": [65, 616]}, "legend": null}}},
   {"data": {"name": "sizeLegend"}, "mark": {"type": "text", "fontSize": 16, "color": "#111111", "dy": -21},
    "encoding": {"x": {"field": "fpkm", "type": "ordinal", "scale": {"type": "point", "domain": [2000, 4000, 6000], "range": [316, 414], "padding": 0}, "axis": null},
                 "y": {"datum": "Absolute level (FPKM)", "type": "nominal", "scale": {"type": "band", "domain": ["Absolute level (FPKM)", "Mean-normalized (log₂)"], "range": [27, 105], "paddingInner": 0, "paddingOuter": 0}, "axis": {"orient": "left", "offset": -262, "domain": false, "ticks": false, "labelPadding": 0, "labelFontSize": 16, "labelColor": "#111111", "labelLimit": 400, "title": null}},
                 "text": {"field": "fpkm", "type": "quantitative", "format": "d"}}},
   {"data": {"name": "gradientLegend"}, "mark": {"type": "bar", "height": {"band": 0.7}, "color": {"gradient": "linear", "x1": 0, "x2": 1, "y1": 0, "y2": 0, "stops": [{"offset": 0, "color": "#27267a"}, {"offset": 0.1263, "color": "#3f3590"}, {"offset": 0.2273, "color": "#6b5ba8"}, {"offset": 0.3535, "color": "#a99bce"}, {"offset": 0.4798, "color": "#d8d5d6"}, {"offset": 0.6061, "color": "#dcb2a3"}, {"offset": 0.7323, "color": "#df8f76"}, {"offset": 0.8586, "color": "#d06048"}, {"offset": 1, "color": "#bf2b25"}]}},
    "encoding": {"x": {"field": "low", "type": "quantitative", "scale": {"domain": [-41.93, 12.69], "zero": false, "nice": false}, "axis": null}, "x2": {"field": "high"},
                 "y": {"datum": "Mean-normalized (log₂)", "type": "nominal", "scale": {"type": "band", "domain": ["Absolute level (FPKM)", "Mean-normalized (log₂)"], "range": [27, 105], "paddingInner": 0, "paddingOuter": 0}, "axis": {"orient": "left", "offset": -262, "domain": false, "ticks": false, "labelPadding": 0, "labelFontSize": 16, "labelColor": "#111111", "labelLimit": 400, "title": null}}}},
   {"data": {"name": "gradientTicks"}, "mark": {"type": "text", "fontSize": 16, "color": "#111111", "dy": 26},
    "encoding": {"x": {"field": "v", "type": "quantitative", "scale": {"domain": [-41.93, 12.69], "zero": false, "nice": false}, "axis": null},
                 "y": {"datum": "Mean-normalized (log₂)", "type": "nominal", "scale": {"type": "band", "domain": ["Absolute level (FPKM)", "Mean-normalized (log₂)"], "range": [27, 105], "paddingInner": 0, "paddingOuter": 0}, "axis": {"orient": "left", "offset": -262, "domain": false, "ticks": false, "labelPadding": 0, "labelFontSize": 16, "labelColor": "#111111", "labelLimit": 400, "title": null}},
                 "text": {"field": "label", "type": "nominal"}}}
  ]},
 {"width": 466, "height": 88, "view": {"stroke": "#222222", "strokeWidth": 1.5},
  "title": {"text": "Transport capacity", "anchor": "start", "frame": "group", "offset": -29, "dx": 10, "fontSize": 16, "fontWeight": "normal", "color": "#111111"},
  "data": {"name": "tcap"},
  "resolve": {"scale": {"x": "independent"}},
  "layer": [
   {"transform": [{"filter": "datum.status == 'No'"}], "mark": {"type": "point", "shape": "square", "filled": true, "fill": "#ffffff", "stroke": "#675a6e", "strokeWidth": 2.6, "size": 256, "opacity": 1},
    "encoding": {"x": {"field": "status", "type": "nominal", "scale": {"type": "point", "domain": ["No", "Yes", "NoData"], "range": [172, 320], "padding": 0}, "axis": null},
                 "y": {"datum": "r1", "type": "nominal", "scale": {"type": "band", "domain": ["r1", "r2"], "range": [4, 80], "paddingInner": 0, "paddingOuter": 0}, "axis": null}}},
   {"transform": [{"filter": "datum.status == 'Yes'"}], "mark": {"type": "point", "shape": "square", "filled": true, "fill": "#675a6e", "stroke": "#675a6e", "strokeWidth": 2.6, "size": 256, "opacity": 1},
    "encoding": {"x": {"field": "status", "type": "nominal", "scale": {"type": "point", "domain": ["No", "Yes", "NoData"], "range": [172, 320], "padding": 0}, "axis": null},
                 "y": {"datum": "r1", "type": "nominal", "scale": {"type": "band", "domain": ["r1", "r2"], "range": [4, 80], "paddingInner": 0, "paddingOuter": 0}, "axis": null}}},
   {"transform": [{"filter": "datum.status == 'NoData'"}], "mark": {"type": "point", "shape": "M-1,0L1,0", "filled": false, "stroke": "#555555", "strokeWidth": 1.6, "size": 50, "opacity": 1, "yOffset": -5},
    "encoding": {"x": {"field": "status", "type": "nominal", "scale": {"type": "point", "domain": ["No", "Yes", "NoData"], "range": [172, 320], "padding": 0}, "axis": null},
                 "y": {"datum": "r1", "type": "nominal", "scale": {"type": "band", "domain": ["r1", "r2"], "range": [4, 80], "paddingInner": 0, "paddingOuter": 0}, "axis": null}}},
   {"transform": [{"filter": "indexof(['No', 'Yes', 'NoData'], datum.status) >= 0"}], "mark": {"type": "text", "align": "left", "baseline": "middle", "fontSize": 16, "color": "#111111", "dx": 14},
    "encoding": {"x": {"field": "status", "type": "nominal", "scale": {"type": "point", "domain": ["No", "Yes", "NoData"], "range": [172, 320], "padding": 0}, "axis": null},
                 "y": {"datum": "r1", "type": "nominal", "scale": {"type": "band", "domain": ["r1", "r2"], "range": [4, 80], "paddingInner": 0, "paddingOuter": 0}, "axis": null},
                 "text": {"field": "label"}}},
   {"transform": [{"filter": "datum.status == 'Coexp'"}], "mark": {"type": "point", "shape": "M-1,-1L1,-1L1,1L-1,1Z M-1,-1L1,1 M1,-1L-1,1", "filled": true, "fill": "#ffffff", "stroke": "#675a6e", "strokeWidth": 2.4, "size": 256, "opacity": 1},
    "encoding": {"x": {"field": "status", "type": "nominal", "scale": {"type": "point", "domain": ["Coexp", "Low"], "range": [173, 355], "padding": 0}, "axis": null},
                 "y": {"datum": "r2", "type": "nominal", "scale": {"type": "band", "domain": ["r1", "r2"], "range": [4, 80], "paddingInner": 0, "paddingOuter": 0}, "axis": null}}},
   {"transform": [{"filter": "datum.status == 'Low'"}], "mark": {"type": "point", "shape": "M0,-1L1,0L0,1L-1,0Z M0,-1L0,1 M-1,0L1,0", "filled": true, "fill": "#ffffff", "stroke": "#675a6e", "strokeWidth": 2.4, "size": 560, "opacity": 1},
    "encoding": {"x": {"field": "status", "type": "nominal", "scale": {"type": "point", "domain": ["Coexp", "Low"], "range": [173, 355], "padding": 0}, "axis": null},
                 "y": {"datum": "r2", "type": "nominal", "scale": {"type": "band", "domain": ["r1", "r2"], "range": [4, 80], "paddingInner": 0, "paddingOuter": 0}, "axis": null}}},
   {"transform": [{"filter": "indexof(['Coexp', 'Low'], datum.status) >= 0"}], "mark": {"type": "text", "align": "left", "baseline": "middle", "fontSize": 16, "color": "#111111", "dx": 22, "lineBreak": "|", "lineHeight": 21},
    "encoding": {"x": {"field": "status", "type": "nominal", "scale": {"type": "point", "domain": ["Coexp", "Low"], "range": [173, 355], "padding": 0}, "axis": null},
                 "y": {"datum": "r2", "type": "nominal", "scale": {"type": "band", "domain": ["r1", "r2"], "range": [4, 80], "paddingInner": 0, "paddingOuter": 0}, "axis": null},
                 "text": {"field": "label"}}}
  ]}
],
"spacing": 42,
"bounds": "flush"
}
]
}
